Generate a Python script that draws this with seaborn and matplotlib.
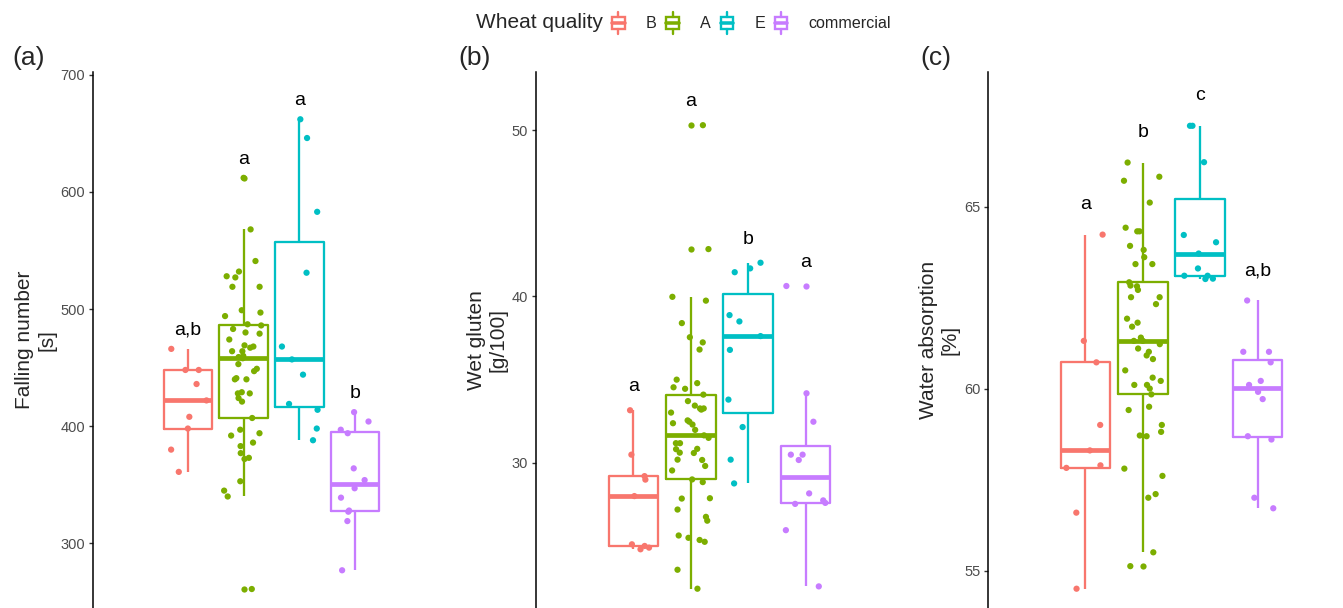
import numpy as np
import pandas as pd
import matplotlib
matplotlib.use("Agg")
import matplotlib.pyplot as plt
import seaborn as sns
from matplotlib.legend_handler import HandlerBase
from matplotlib.lines import Line2D
from matplotlib.patches import Rectangle

# ---------------------------------------------------------------- data
quality_levels = ["B", "A", "E", "commercial"]
quality_colors = ["#F8766D", "#7CAE00", "#00BFC4", "#C77CFF"]

falling_B = [466, 448, 448, 436, 422, 408, 398, 380, 361]
falling_A = [612, 568, 541, 532, 528, 527, 519, 519, 499, 497, 494, 487, 486,
             483, 480, 479, 474, 469, 468, 467, 464, 464, 460, 459, 458, 453,
             449, 447, 441, 440, 440, 429, 428, 428, 424, 421, 407, 397, 394,
             392, 386, 383, 377, 373, 372, 353, 345, 340, 261]
falling_E = [662, 646, 583, 531, 468, 457, 444, 419, 414, 398, 388]
falling_comm = [412, 404, 397, 394, 364, 354, 347, 339, 328, 327, 319, 277]

gluten_B = [33.16, 30.49, 29.2, 28.99, 28.0, 25.1, 25.0, 24.9, 24.8]
gluten_A = [50.3, 42.85, 39.98, 39.75, 38.4, 37.55, 37.24, 36.81, 35.0, 34.79,
            34.54, 34.45, 34.1, 33.71, 33.44, 33.27, 33.27, 33.2, 33.02, 32.55,
            32.47, 32.38, 32.3, 31.98, 31.65, 31.5, 31.18, 31.18, 30.84, 30.82,
            30.61, 30.59, 30.19, 30.17, 29.81, 29.54, 29.0, 28.84, 27.87, 27.85,
            27.19, 26.75, 26.52, 25.63, 25.49, 25.36, 25.25, 23.57, 22.43]
gluten_E = [42.03, 41.69, 41.46, 38.88, 38.5, 37.62, 36.79, 33.8, 32.15, 30.19, 28.76]
gluten_comm = [40.63, 34.18, 32.47, 30.49, 30.49, 30.17, 28.16, 27.74, 27.59,
               27.53, 25.95, 22.57]

water_B = [64.23, 61.31, 60.72, 59.0, 58.3, 57.89, 57.82, 56.59, 54.5]
water_A = [66.21, 65.82, 65.71, 65.11, 64.42, 64.32, 64.32, 63.92, 63.81, 63.61,
           63.42, 63.42, 62.92, 62.83, 62.81, 62.71, 62.51, 62.51, 62.32, 61.92,
           61.81, 61.70, 61.40, 61.31, 61.31, 61.22, 61.10, 61.01, 60.91, 60.81,
           60.50, 60.30, 60.21, 60.10, 60.10, 60.0, 59.84, 59.50, 59.41, 59.0,
           58.81, 58.71, 58.69, 57.80, 57.60, 57.10, 57.0, 55.5, 55.12]
water_E = [67.22, 67.22, 66.22, 64.22, 64.02, 63.71, 63.30, 63.1, 63.1, 63.02, 63.01]
water_comm = [62.42, 61.01, 61.01, 60.72, 60.21, 60.1, 59.91, 59.71, 58.69,
              58.6, 57.0, 56.71]

letters_falling = ["a,b", "a", "a", "b"]
letters_gluten = ["a", "a", "b", "a"]
letters_water = ["a", "b", "c", "a,b"]

ticks_falling = [300, 400, 500, 600, 700]
ticks_gluten = [30, 40, 50]
ticks_water = [55, 60, 65]

# ---------------------------------------------------------------- style
sns.set_style("white")
plt.rcParams["font.family"] = ["Liberation Sans", "DejaVu Sans"]

W, H = 1343, 608
fig = plt.figure(figsize=(W / 100, H / 100), dpi=100)
np.random.seed(7)

panels = [
    dict(groups=[falling_B, falling_A, falling_E, falling_comm],
         letters=letters_falling, ticks=ticks_falling,
         ylabel="Falling number\n[s]", tag="(a)", tag_x=12,
         left=93, width=357, ylim=(244.8, 702.1), letter_gap=12),
    dict(groups=[gluten_B, gluten_A, gluten_E, gluten_comm],
         letters=letters_gluten, ticks=ticks_gluten,
         ylabel="Wet gluten\n[g/100]", tag="(b)", tag_x=458,
         left=536, width=367, ylim=(21.27, 53.48), letter_gap=1.15),
    dict(groups=[water_B, water_A, water_E, water_comm],
         letters=letters_water, ticks=ticks_water,
         ylabel="Water absorption\n[%]", tag="(c)", tag_x=920,
         left=988, width=367, ylim=(53.97, 68.69), letter_gap=0.7),
]

top_px = 72.3
for p in panels:
    ax = fig.add_axes([p["left"] / W, 0, p["width"] / W, (H - top_px) / H])
    df = pd.DataFrame({
        "grp": np.concatenate([[""] * len(g) for g in p["groups"]]),
        "quality": np.concatenate([[q] * len(g) for q, g in zip(quality_levels, p["groups"])]),
        "value": np.concatenate([np.asarray(g, float) for g in p["groups"]]),
    })
    sns.boxplot(data=df, x="grp", y="value", hue="quality",
                hue_order=quality_levels, palette=quality_colors,
                fill=False, width=0.8, gap=0.13, linewidth=1.65,
                showcaps=False, whis=1.5,
                medianprops=dict(linewidth=3.4),
                flierprops=dict(marker="o", markersize=4.5, markeredgewidth=0),
                legend=False, ax=ax)
    for ln in ax.lines:
        if ln.get_marker() == "o":
            ln.set_markerfacecolor(ln.get_markeredgecolor())
    sns.stripplot(data=df, x="grp", y="value", hue="quality",
                  hue_order=quality_levels, palette=quality_colors,
                  dodge=True, jitter=0.28, size=4.5, linewidth=0,
                  legend=False, zorder=3, ax=ax)

    # significance letters above each group
    for i, (vals, lab) in enumerate(zip(p["groups"], p["letters"])):
        ax.text(-0.3 + 0.2 * i, max(vals) + p["letter_gap"], lab,
                ha="center", va="baseline", fontsize=14, color="black")

    ax.set_xlim(-0.64, 0.64)
    ax.set_ylim(*p["ylim"])
    ax.set_yticks(p["ticks"])
    ax.set_xticks([])
    ax.set_xlabel("")
    ax.set_ylabel(p["ylabel"], fontsize=15, labelpad=3, linespacing=1.2)
    for s in ("top", "right", "bottom"):
        ax.spines[s].set_visible(False)
    ax.spines["left"].set_linewidth(1.1)
    ax.spines["left"].set_color("black")
    ax.tick_params(axis="y", which="both", left=True, length=3, width=1.0,
                   color="#333333", labelsize=10.5, labelcolor="#4D4D4D", pad=2.6)
    ax.patch.set_alpha(0)
    fig.text(p["tag_x"] / W, 1 - 58 / H, p["tag"], fontsize=19, va="center", ha="left")


# ---------------------------------------------------------------- legend
class BoxKey:
    def __init__(self, color):
        self.color = color


class BoxKeyHandler(HandlerBase):
    def create_artists(self, legend, orig_handle, xdescent, ydescent,
                       width, height, fontsize, trans):
        x0, y0 = -xdescent, -ydescent
        c = orig_handle.color
        lw = 1.7
        box = Rectangle((x0, y0 + 0.24 * height), width, 0.52 * height,
                        facecolor="white", edgecolor=c, linewidth=lw, transform=trans)
        med = Line2D([x0, x0 + width], [y0 + 0.5 * height] * 2,
                     color=c, lw=lw * 1.5, transform=trans)
        w_lo = Line2D([x0 + width / 2] * 2, [y0, y0 + 0.24 * height],
                      color=c, lw=lw, transform=trans)
        w_hi = Line2D([x0 + width / 2] * 2, [y0 + 0.76 * height, y0 + height],
                      color=c, lw=lw, transform=trans)
        return [box, med, w_lo, w_hi]


fig.text(476 / W, 1 - 23 / H, "Wheat quality", fontsize=15, va="center", ha="left")
fig.legend(handles=[BoxKey(c) for c in quality_colors], labels=quality_levels,
           handler_map={BoxKey: BoxKeyHandler()},
           loc="center left", bbox_to_anchor=(612 / W, 1 - 23 / H),
           ncol=4, frameon=False, fontsize=11.6,
           handlelength=0.78, handleheight=1.8, handletextpad=1.3,
           columnspacing=0.62, borderpad=0, borderaxespad=0)

fig.savefig("out.png", dpi=100)
